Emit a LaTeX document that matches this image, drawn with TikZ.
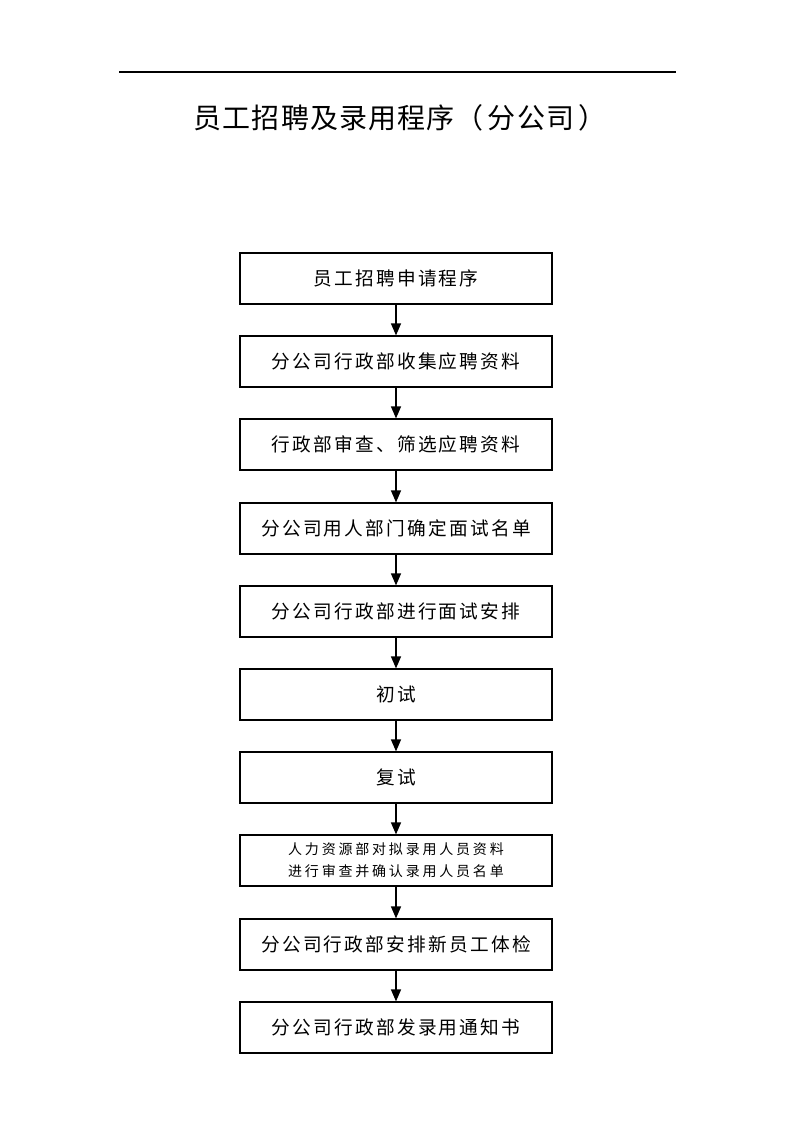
\documentclass[tikz,border=0pt]{standalone}
\usepackage{fontspec}
\setmainfont{Noto Sans CJK SC}
\newfontfamily\cjkbox[LetterSpace=12]{Noto Sans CJK SC}
\newfontfamily\cjktitle[LetterSpace=4]{Noto Sans CJK SC}
\newfontfamily\cjksmall[LetterSpace=20]{Noto Sans CJK SC}
\usetikzlibrary{arrows.meta}
\begin{document}
\begin{tikzpicture}[x=0.75pt,y=-0.75pt,
  stepbox/.style={draw=black,line width=0.9pt,minimum width=312*0.75pt,minimum height=51*0.75pt,inner sep=0pt,font=\cjkbox\fontsize{14pt}{16pt}\selectfont,align=center},
  smallbox/.style={stepbox,font=\cjksmall\fontsize{10.5pt}{16.5pt}\selectfont},
  flow/.style={line width=1pt,-{Triangle[length=9pt,width=7.5pt]}}]
\useasboundingbox (0,0) rectangle (794,1123);
\draw[line width=0.9pt] (119,72) -- (676,72);
\node[font=\cjktitle\fontsize{21pt}{24pt}\selectfont] (title) at (400,118) {员工招聘及录用程序（{\hspace{0.15em}}分公司{\hspace{0.15em}}）};
\node[stepbox] (b1) at (396,278.5) {员工招聘申请程序};
\node[stepbox] (b2) at (396,361.5) {分公司行政部收集应聘资料};
\node[stepbox] (b3) at (396,444.5) {行政部审查、筛选应聘资料};
\node[stepbox] (b4) at (396,528.5) {分公司用人部门确定面试名单};
\node[stepbox] (b5) at (396,611.5) {分公司行政部进行面试安排};
\node[stepbox] (b6) at (396,694.5) {初试};
\node[stepbox] (b7) at (396,777.5) {复试};
\node[smallbox] (b8) at (396,860.5) {人力资源部对拟录用人员资料\\进行审查并确认录用人员名单};
\node[stepbox] (b9) at (396,944.5) {分公司行政部安排新员工体检};
\node[stepbox] (b10) at (396,1027.5) {分公司行政部发录用通知书};
\foreach \a/\b in {b1/b2,b2/b3,b3/b4,b4/b5,b5/b6,b6/b7,b7/b8,b8/b9,b9/b10}
  \draw[flow] (\a.south) -- (\b.north);
\end{tikzpicture}
\end{document}
